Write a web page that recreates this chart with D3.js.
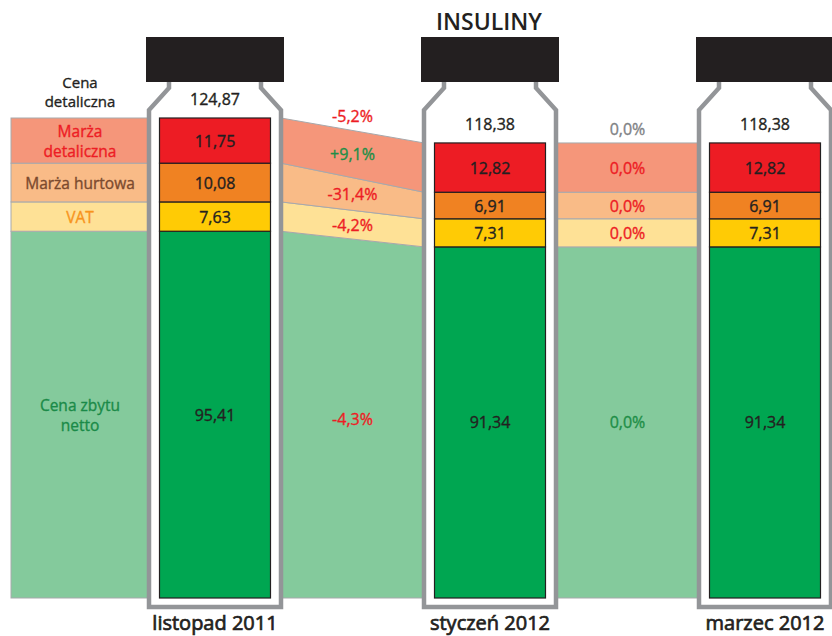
<!DOCTYPE html>
<html>
<head>
<meta charset="utf-8">
<script src="https://cdn.jsdelivr.net/npm/d3@7"></script>
<style>
  body { margin: 0; background: #fff; }
  text { font-family: "Open Sans", "Noto Sans", sans-serif; }
  .lbl { stroke-width: 0.35px; paint-order: stroke; }
  .month { stroke-width: 0.7px; paint-order: stroke; }
</style>
</head>
<body>
<div id="chart"></div>
<script>
// dane - ceny insulin (zł)
var months = ["listopad 2011", "styczeń 2012", "marzec 2012"];
var cenaNetto = [95.41, 91.34, 91.34];
var vat = [7.63, 7.31, 7.31];
var marzaHurtowa = [10.08, 6.91, 6.91];
var marzaDetaliczna = [11.75, 12.82, 12.82];
var cenaDetaliczna = [124.87, 118.38, 118.38];

// zmiany miedzy kolejnymi okresami
var zmianaDetaliczna = ["-5,2%", "0,0%"];
var zmianaMarzaDet = ["+9,1%", "0,0%"];
var zmianaMarzaHurt = ["-31,4%", "0,0%"];
var zmianaVat = ["-4,2%", "0,0%"];
var zmianaNetto = ["-4,3%", "0,0%"];

var width = 832, height = 636;

var svg = d3.select("#chart").append("svg")
  .attr("width", width)
  .attr("height", height);

// skale
var x = d3.scalePoint().domain(months).range([215, 765]);
var y = d3.scaleLinear().domain([0, 124.87]).range([598, 118]);

var half = 66;     // pol szerokosci butelki
var barHalf = 55.5;

var keys = ["netto", "vat", "hurt", "detal"];
var rows = months.map(function(m, i) {
  return { month: m, netto: cenaNetto[i], vat: vat[i], hurt: marzaHurtowa[i], detal: marzaDetaliczna[i] };
});
var series = d3.stack().keys(keys)(rows);

var barColor = { netto: "#00a651", vat: "#ffcb05", hurt: "#f08222", detal: "#ed1c24" };
var bandColor = { netto: "#84ca9c", vat: "#fee196", hurt: "#f9bb87", detal: "#f5967a" };
var changes = { netto: zmianaNetto, vat: zmianaVat, hurt: zmianaMarzaHurt, detal: zmianaMarzaDet };

var locale = d3.formatLocale({ decimal: ",", thousands: " ", grouping: [3], currency: ["", " zł"] });
var fmt = locale.format(".2f");

// pomocnik do etykiet
function label(xp, yp, txt, color, size) {
  return svg.append("text")
    .attr("class", "lbl")
    .attr("x", xp).attr("y", yp)
    .attr("text-anchor", "middle")
    .attr("font-size", size || 16)
    .attr("fill", color).attr("stroke", color)
    .text(txt);
}

// legenda po lewej (pasy)
var gBands = svg.append("g");
series.forEach(function(s) {
  var d = s[0];
  gBands.append("rect")
    .attr("x", 11).attr("y", y(d[1]))
    .attr("width", x(months[0]) - half - 11)
    .attr("height", y(d[0]) - y(d[1]))
    .attr("fill", bandColor[s.key])
    .attr("stroke", "#a7a9ac").attr("stroke-width", 1);
});

// pasy miedzy butelkami
for (var i = 0; i < months.length - 1; i++) {
  var x0 = x(months[i]) + half, x1 = x(months[i + 1]) - half;
  series.forEach(function(s) {
    var a = s[i], b = s[i + 1];
    var pts = [[x0, y(a[1])], [x1, y(b[1])], [x1, y(b[0])], [x0, y(a[0])]];
    gBands.append("path")
      .attr("d", "M" + pts.join("L") + "Z")
      .attr("fill", bandColor[s.key])
      .attr("stroke", "#a7a9ac").attr("stroke-width", 1);
  });
}

// butelki
var bottle = svg.selectAll(".bottle").data(months).enter().append("g")
  .attr("class", "bottle")
  .attr("transform", function(d) { return "translate(" + x(d) + ",0)"; });

bottle.append("path")
  .attr("d", "M-46,82L-46,88L-66,110L-66,607L66,607L66,110L46,88L46,82")
  .attr("fill", "#fff")
  .attr("stroke", "#939598")
  .attr("stroke-width", 4.5)
  .attr("stroke-linejoin", "miter");

bottle.append("rect")
  .attr("x", -69).attr("y", 37)
  .attr("width", 138).attr("height", 45)
  .attr("fill", "#231f20");

// slupki
series.forEach(function(s) {
  svg.selectAll(".bar-" + s.key).data(s).enter().append("rect")
    .attr("x", function(d) { return x(d.data.month) - barHalf; })
    .attr("y", function(d) { return y(d[1]); })
    .attr("width", barHalf * 2)
    .attr("height", function(d) { return y(d[0]) - y(d[1]); })
    .attr("fill", barColor[s.key])
    .attr("stroke", "#231f20").attr("stroke-width", 1.2);

  s.forEach(function(d) {
    label(x(d.data.month), (y(d[0]) + y(d[1])) / 2 + 6, fmt(d[1] - d[0]), "#231f20");
  });
});

// cena detaliczna nad slupkami
cenaDetaliczna.forEach(function(d, i) {
  label(x(months[i]), y(d) - 13, fmt(d), "#231f20");
});

// etykiety zmian
function changeColor(v, key) {
  if (v[0] === "+") return "#1e8e47";
  if (v === "0,0%") return key === "total" ? "#808285" : (key === "netto" ? "#1e8e47" : "#ed1c24");
  return "#ed1c24";
}
for (var j = 0; j < months.length - 1; j++) {
  var xm = (x(months[j]) + x(months[j + 1])) / 2;
  var topMid = (y(cenaDetaliczna[j]) + y(cenaDetaliczna[j + 1])) / 2;
  label(xm, topMid - 8, zmianaDetaliczna[j], changeColor(zmianaDetaliczna[j], "total"));
  series.forEach(function(s) {
    var ym = (y(s[j][0]) + y(s[j][1]) + y(s[j + 1][0]) + y(s[j + 1][1])) / 4;
    var v = changes[s.key][j];
    label(xm, ym + 6, v, changeColor(v, s.key));
  });
}

// opisy legendy
var lx = 80;
var legendText = [
  { key: "netto", lines: ["Cena zbytu", "netto"], color: "#1a8a48" },
  { key: "vat", lines: ["VAT"], color: "#f7941d" },
  { key: "hurt", lines: ["Marża hurtowa"], color: "#7b4a2e" },
  { key: "detal", lines: ["Marża", "detaliczna"], color: "#ed1c24" }
];
legendText.forEach(function(l) {
  var s = series.find(function(q) { return q.key === l.key; });
  var yc = (y(s[0][0]) + y(s[0][1])) / 2;
  var n = l.lines.length;
  l.lines.forEach(function(t, k) {
    label(lx, yc + 6 + (k - (n - 1) / 2) * 20, t, l.color, 15.5);
  });
});
["Cena", "detaliczna"].forEach(function(t, k) {
  label(lx, 88 + k * 19, t, "#231f20", 15);
});

// tytul
svg.append("text")
  .attr("x", 489).attr("y", 30)
  .attr("text-anchor", "middle")
  .attr("font-size", 23).attr("font-weight", 600)
  .attr("fill", "#231f20")
  .text("INSULINY");

// podpisy miesiecy
svg.selectAll(".month").data(months).enter().append("text")
  .attr("class", "month")
  .attr("x", function(d) { return x(d); })
  .attr("y", 630)
  .attr("text-anchor", "middle")
  .attr("font-size", 20)
  .attr("fill", "#231f20").attr("stroke", "#231f20")
  .text(function(d) { return d; });
</script>
</body>
</html>
